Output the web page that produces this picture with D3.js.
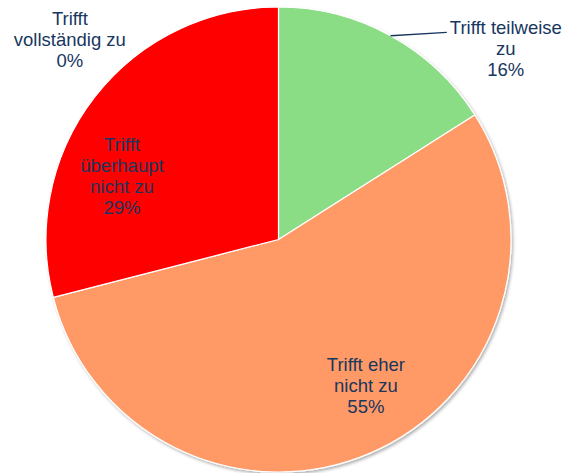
<!DOCTYPE html>
<html>
<head>
<meta charset="utf-8">
<script src="https://cdn.jsdelivr.net/npm/d3@7"></script>
<style>
  html, body { margin: 0; padding: 0; background: #fff; }
  svg { display: block; }
</style>
</head>
<body>
<svg id="chart" width="571" height="473"></svg>
<script>
// Answer categories, clockwise from 12 o'clock
const categories = [
  ["Trifft", "vollständig zu"],
  ["Trifft teilweise", "zu"],
  ["Trifft eher", "nicht zu"],
  ["Trifft", "überhaupt", "nicht zu"]
];
const values = [0, 16, 55, 29];
const colors = ["#4472C4", "#8ADC85", "#FF9966", "#FF0000"];

// Label placement: angle (degrees, clockwise from top) and distance as a fraction of the radius
const labelLayout = [
  { angle: 312.9, dist: 1.225 },
  { angle: 51.0,  dist: 1.258, leader: true },
  { angle: 150.2, dist: 0.756 },
  { angle: 290.1, dist: 0.717 }
];

const width = 571, height = 473;
const cx = 278.5, cy = 239.5, radius = 232.5;
const lineHeight = 21;
const textColor = "#17375E";

const svg = d3.select("#chart");

const defs = svg.append("defs");
const shadow = defs.append("filter")
  .attr("id", "pieShadow")
  .attr("x", "-10%").attr("y", "-10%")
  .attr("width", "120%").attr("height", "120%");
shadow.append("feDropShadow")
  .attr("dx", 1.5).attr("dy", 2)
  .attr("stdDeviation", 1.5)
  .attr("flood-color", "#000")
  .attr("flood-opacity", 0.3);

const pie = d3.pie().sort(null).value(d => d);
const arcs = pie(values);
const arc = d3.arc().innerRadius(0).outerRadius(radius);

const g = svg.append("g").attr("transform", `translate(${cx},${cy})`);

g.append("g")
  .attr("filter", "url(#pieShadow)")
  .selectAll("path")
  .data(arcs)
  .join("path")
  .attr("d", arc)
  .attr("fill", (d, i) => colors[i])
  .attr("stroke", "#fff")
  .attr("stroke-width", d => d.value > 0 ? 1.2 : 0)
  .attr("stroke-linejoin", "round");

function polar(angleDeg, r) {
  const a = angleDeg * Math.PI / 180;
  return [Math.sin(a) * r, -Math.cos(a) * r];
}

const labels = g.append("g")
  .attr("font-family", "'Liberation Sans', Arial, sans-serif")
  .attr("font-size", "18.5px")
  .attr("fill", textColor)
  .attr("text-anchor", "middle");

arcs.forEach((d, i) => {
  const lay = labelLayout[i];
  const [lx, ly] = polar(lay.angle, radius * lay.dist);
  const lines = categories[i].concat([d3.format(".0f")(values[i]) + "%"]);
  const n = lines.length;
  const t = labels.append("text").attr("transform", `translate(${lx},${ly})`);
  lines.forEach((s, k) => {
    t.append("tspan")
      .attr("x", 0)
      .attr("y", (k - (n - 1) / 2) * lineHeight)
      .text(s);
  });

  if (lay.leader) {
    // leader from the slice's outer edge to the first line of its label
    const mid = (d.startAngle + d.endAngle) / 2;
    const p0 = [Math.sin(mid) * radius, -Math.cos(mid) * radius];
    const bbox = t.node().getBBox();
    const firstBaseline = ly - (n - 1) / 2 * lineHeight;
    const p1 = [lx + bbox.x - 3, firstBaseline - 2];
    g.append("line")
      .attr("x1", p0[0]).attr("y1", p0[1])
      .attr("x2", p1[0]).attr("y2", p1[1])
      .attr("stroke", textColor)
      .attr("stroke-width", 1.3);
  }
});
</script>
</body>
</html>
